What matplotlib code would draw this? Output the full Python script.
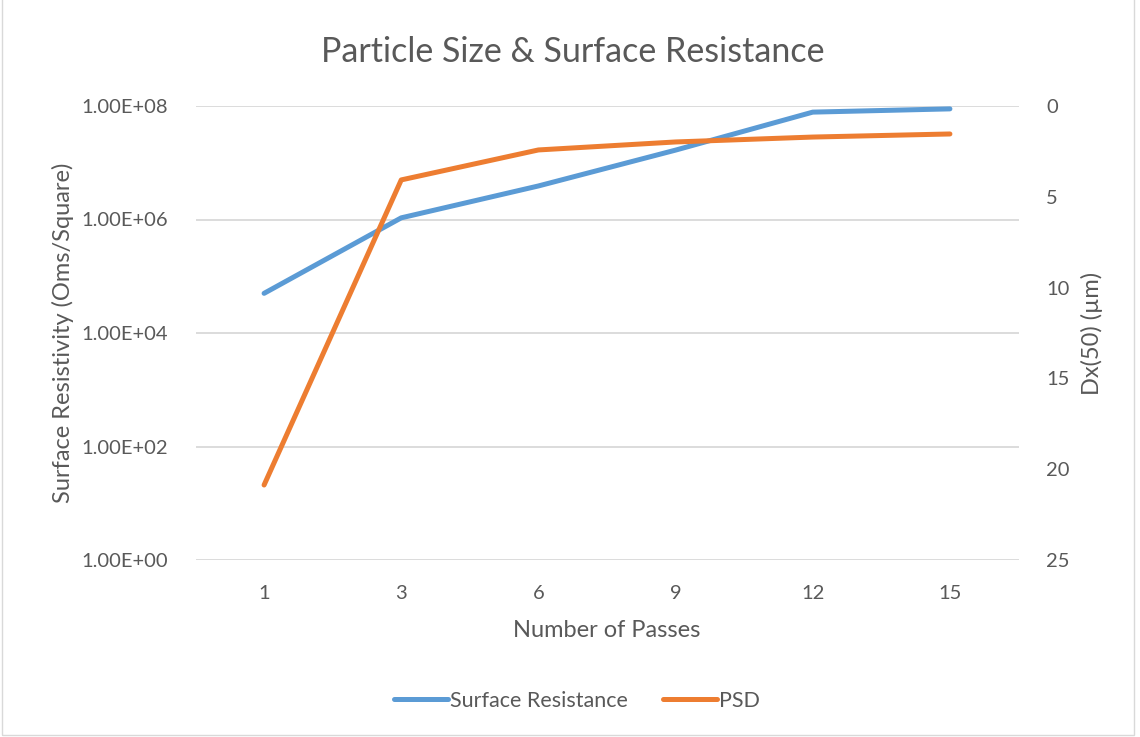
import matplotlib.pyplot as plt
from matplotlib.patches import Rectangle

passes = ["1", "3", "6", "9", "12", "15"]
surface_resistance = [5.0e4, 1.07e6, 3.9e6, 1.67e7, 7.8e7, 8.9e7]
psd = [20.87, 4.07, 2.42, 1.98, 1.71, 1.54]

BLUE = "#5B9BD5"
ORANGE = "#ED7D31"
TEXT = "#595959"
GRID = "#D9D9D9"

plt.rcParams["font.family"] = ["Lato", "DejaVu Sans"]

fig = plt.figure(figsize=(11.4, 7.37), dpi=100)
ax = fig.add_axes([195.5 / 1140, 1 - 560 / 737, 823 / 1140, 454 / 737])
ax2 = ax.twinx()

x = list(range(len(passes)))
l1, = ax.plot(x, surface_resistance, color=BLUE, lw=3.6,
              solid_capstyle="round", solid_joinstyle="round",
              label="Surface Resistance", zorder=3)
l2, = ax2.plot(x, psd, color=ORANGE, lw=3.6,
               solid_capstyle="round", solid_joinstyle="round",
               label="PSD", zorder=3)

ax.set_yscale("log")
ax.set_ylim(1, 1e8)
ax.set_yticks([1, 1e2, 1e4, 1e6, 1e8])
ax.set_yticklabels(["1.00E+00", "1.00E+02", "1.00E+04", "1.00E+06", "1.00E+08"])
ax.minorticks_off()
ax.set_xlim(-0.5, len(passes) - 0.5)
ax.set_xticks(x)
ax.set_xticklabels(passes)
ax.grid(axis="y", color=GRID, lw=1.3)
ax.set_axisbelow(True)

ax2.set_ylim(25, 0)
ax2.set_yticks([0, 5, 10, 15, 20, 25])

for a in (ax, ax2):
    for s in a.spines.values():
        s.set_visible(False)
    a.tick_params(length=0, labelsize=14.5, colors=TEXT)

ax.tick_params(axis="y", pad=20)
ax.tick_params(axis="x", pad=18)
ax2.tick_params(axis="y", pad=20)

ax.set_xlabel("Number of Passes", fontsize=17, color=TEXT, labelpad=13)
ax.set_ylabel("Surface Resistivity (Oms/Square)", fontsize=17, color=TEXT, labelpad=5)
ax2.set_ylabel("Dx(50) (µm)", fontsize=17, color=TEXT, labelpad=8)

fig.text(573 / 1140, 1 - 52 / 737,
         "Particle Size & Surface Resistance", fontsize=24.5, color=TEXT,
         ha="center", va="center")

fig.legend(handles=[l1, l2], loc="center", bbox_to_anchor=(577 / 1140, 1 - 701 / 737),
           ncol=2, frameon=False, fontsize=15.5, labelcolor=TEXT,
           handlelength=2.5, handletextpad=0.1, columnspacing=1.6)

fig.patches.append(Rectangle((2 / 1140, 2 / 737), 1132 / 1140, 740 / 737,
                             transform=fig.transFigure, fill=False,
                             edgecolor=GRID, lw=1))

fig.savefig("out.png", dpi=100)
